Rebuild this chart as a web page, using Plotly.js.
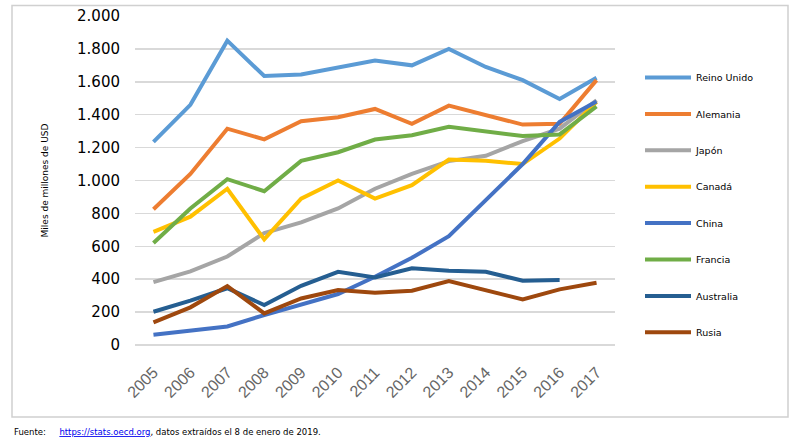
<!DOCTYPE html>
<html>
<head>
<meta charset="utf-8">
<script src="https://cdn.plot.ly/plotly-3.0.1.min.js"></script>
<style>
  body { margin: 0; background: #fff; }
  #myDiv { width: 801px; height: 440px; }
</style>
</head>
<body>
<div id="myDiv"></div>
<script>
// años (categorías del eje x)
const years = ['2005', '2006', '2007', '2008', '2009', '2010', '2011', '2012', '2013', '2014', '2015', '2016', '2017'];

// miles de millones de USD
const reinoUnido = [1235, 1460, 1850, 1635, 1645, 1690, 1730, 1700, 1800, 1690, 1610, 1495, 1625];
const alemania   = [825, 1040, 1315, 1250, 1360, 1385, 1435, 1345, 1455, 1395, 1340, 1345, 1610];
const japon      = [382, 447, 538, 680, 745, 830, 950, 1040, 1118, 1150, 1240, 1315, 1488];
const canada     = [688, 780, 950, 642, 890, 1000, 890, 972, 1127, 1120, 1100, 1255, 1478];
const china      = [62, 88, 113, 182, 245, 310, 415, 530, 662, 880, 1100, 1356, 1480];
const francia    = [620, 830, 1008, 935, 1119, 1172, 1249, 1275, 1326, 1295, 1270, 1280, 1450];
const australia  = [202, 270, 345, 243, 360, 445, 411, 466, 451, 445, 391, 395, null];
const rusia      = [138, 229, 358, 192, 283, 334, 318, 330, 389, 330, 277, 338, 378];

const names  = ['Reino Unido', 'Alemania', 'Japón', 'Canadá', 'China', 'Francia', 'Australia', 'Rusia'];
const series = [reinoUnido, alemania, japon, canada, china, francia, australia, rusia];
const colors = ['#5B9BD5', '#ED7D31', '#A5A5A5', '#FFC000', '#4472C4', '#70AD47', '#255E91', '#9E480E'];

const dataGrafica = series.map((vals, i) => ({
  x: years,
  y: vals,
  type: 'scatter',
  mode: 'lines',
  name: names[i],
  legendgroup: 'g' + i,
  line: { color: colors[i], width: 4 },
  connectgaps: false
}));

// geometría: área de trazado 135..615 x 16..345
const L = 135, R = 615, T = 16, B = 345;
const px = v => (v - L) / (R - L);
const py = v => (B - v) / (B - T);

var layout = {
  width: 801,
  height: 440,
  margin: { l: L, r: 801 - R, t: T, b: 440 - B, pad: 0 },
  paper_bgcolor: '#ffffff',
  plot_bgcolor: '#ffffff',
  separators: ',.',
  font: { family: 'DejaVu Sans, Verdana, sans-serif', color: '#000000' },
  showlegend: true,
  legend: {
    x: px(640), xanchor: 'left',
    y: py(63), yanchor: 'top',
    font: { size: 9.5, color: '#000000' },
    itemwidth: 46,
    tracegroupgap: 17.4,
    bgcolor: 'rgba(0,0,0,0)'
  },
  xaxis: {
    type: 'category',
    range: [-0.5, years.length - 0.5],
    tickangle: -45,
    ticks: '',
    showgrid: false,
    showline: false,
    zeroline: false,
    tickfont: { family: 'Liberation Sans, Arial, sans-serif', size: 16, color: '#666666' },
    ticklabelstandoff: 14
  },
  yaxis: {
    range: [0, 2000],
    dtick: 200,
    tickformat: ',d',
    showgrid: true,
    gridcolor: '#d9d9d9',
    gridwidth: 1.5,
    zeroline: true,
    zerolinecolor: '#d9d9d9',
    zerolinewidth: 1.5,
    showline: false,
    ticks: '',
    tickfont: { size: 15, color: '#000000' },
    ticklabelstandoff: 14,
    title: {
      text: 'Miles de millones de USD',
      font: { size: 9, color: '#000000' },
      standoff: 26
    }
  },
  shapes: [{
    type: 'rect', xref: 'paper', yref: 'paper',
    x0: px(12), x1: px(788), y0: py(417), y1: py(5.5),
    line: { color: '#d0d0d0', width: 1.5 },
    fillcolor: 'rgba(0,0,0,0)'
  }],
  annotations: [{
    xref: 'paper', yref: 'paper',
    x: px(12), y: py(432), xanchor: 'left', yanchor: 'middle',
    showarrow: false,
    font: { size: 8.5, color: '#000000' },
    text: 'Fuente:\u00a0\u00a0\u00a0\u00a0\u00a0<a href="https://stats.oecd.org" style="color:#0000ee;text-decoration:underline">https://stats.oecd.org</a>, datos extraídos el 8 de enero de 2019.'
  }]
};

Plotly.newPlot('myDiv', dataGrafica, layout, { displayModeBar: false, staticPlot: true });
</script>
</body>
</html>
